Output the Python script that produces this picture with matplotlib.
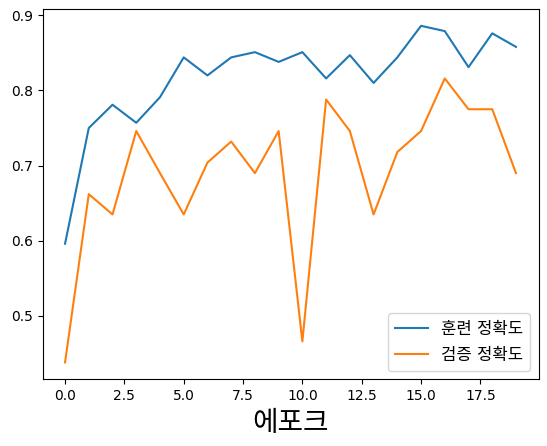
import matplotlib
matplotlib.use('Agg')
import matplotlib.pyplot as plt

plt.rcParams['font.family'] = ['DejaVu Sans', 'Noto Sans CJK KR']
plt.rcParams['axes.unicode_minus'] = False

# 에포크별 정확도
epochs = list(range(20))
train_acc = [0.596, 0.750, 0.781, 0.757, 0.791, 0.844, 0.820, 0.844, 0.851, 0.838,
             0.851, 0.816, 0.847, 0.810, 0.844, 0.886, 0.879, 0.831, 0.876, 0.858]
val_acc = [0.438, 0.662, 0.635, 0.746, 0.690, 0.635, 0.704, 0.732, 0.690, 0.746,
           0.466, 0.788, 0.746, 0.635, 0.718, 0.746, 0.816, 0.775, 0.775, 0.690]

fig = plt.figure(figsize=(5.47, 4.46), dpi=100)
ax = fig.add_axes([0.0777, 0.1496, 0.9068, 0.8302])
ax.plot(epochs, train_acc, label='훈련 정확도')
ax.plot(epochs, val_acc, label='검증 정확도')
ax.set_xlabel('에포크', fontsize=20)
ax.legend(loc='lower right', fontsize=12)

fig.savefig('out.png', dpi=100)
